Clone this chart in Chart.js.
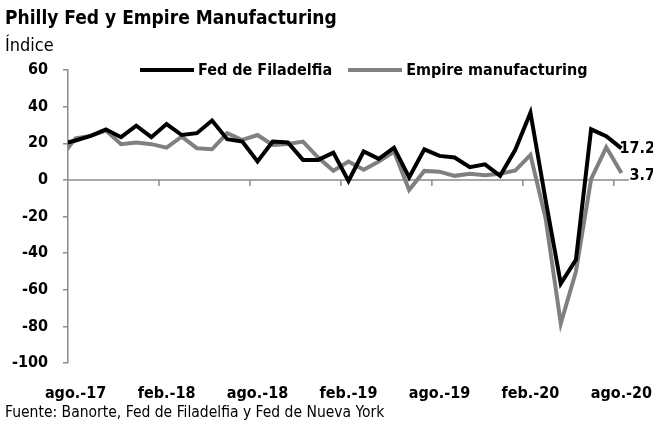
<!DOCTYPE html>
<html>
<head>
<meta charset="utf-8">
<script src="https://cdn.jsdelivr.net/npm/chart.js@4"></script>
<style>
  body { margin: 0; background: #fff; }
  #wrap { position: relative; width: 653px; height: 426px; font-family: 'DejaVu Sans Condensed', 'Liberation Sans Narrow', sans-serif; }
  #chart1 { position: absolute; left: 0; top: 0; }
  .txt { position: absolute; white-space: nowrap; color: #000; }
  #title { left: 5px; top: 6px; font-size: 19px; font-weight: bold; }
  #sub { left: 5px; top: 34px; font-size: 18px; }
  #legend { left: 140px; top: 60px; font-size: 16px; font-weight: bold; display: flex; align-items: center; }
  #legend .sw { display: inline-block; width: 54px; height: 4px; margin-right: 4px; }
  #legend .item { display: flex; align-items: center; margin-right: 16px; }
  #foot { left: 5px; top: 403px; font-size: 15.5px; }
</style>
</head>
<body>
<div id="wrap">
  <canvas id="chart1" width="653" height="426"></canvas>
  <div class="txt" id="title">Philly Fed y Empire Manufacturing</div>
  <div class="txt" id="sub">Índice</div>
  <div class="txt" id="legend">
    <span class="item"><span class="sw" style="background:#000"></span>Fed de Filadelfia</span>
    <span class="item"><span class="sw" style="background:#808080"></span>Empire manufacturing</span>
  </div>
  <div class="txt" id="foot">Fuente: Banorte, Fed de Filadelfia y Fed de Nueva York</div>
</div>
<script>
// months, jul.-17 is only there so the line enters from the left edge
const months = ['jul.-17', 'ago.-17', 'sep.-17', 'oct.-17', 'nov.-17', 'dic.-17',
  'ene.-18', 'feb.-18', 'mar.-18', 'abr.-18', 'may.-18', 'jun.-18', 'jul.-18', 'ago.-18', 'sep.-18', 'oct.-18', 'nov.-18', 'dic.-18',
  'ene.-19', 'feb.-19', 'mar.-19', 'abr.-19', 'may.-19', 'jun.-19', 'jul.-19', 'ago.-19', 'sep.-19', 'oct.-19', 'nov.-19', 'dic.-19',
  'ene.-20', 'feb.-20', 'mar.-20', 'abr.-20', 'may.-20', 'jun.-20', 'jul.-20', 'ago.-20'];

const phillyFed = [19.5, 21.5, 24, 27.5, 23.3, 29.6,
  23.3, 30.5, 24.5, 25.5, 32.4, 22.2, 20.9, 10, 20.9, 20.4, 10.9, 10.9,
  14.9, -0.6, 15.5, 11.5, 17.6, 1.3, 16.7, 13.1, 12.2, 6.9, 8.5, 2.2,
  16.4, 36.7, -11, -56.6, -43.6, 27.6, 23.8, 17.2];

const empire = [12, 22.7, 24, 26.9, 19.5, 20.4,
  19.5, 17.6, 23.6, 17.3, 16.7, 25.5, 21.8, 24.5, 19.1, 19.6, 20.9, 12.2,
  5, 10, 5.5, 10, 15.5, -5.5, 4.9, 4.5, 2.2, 3.3, 2.5, 3.3,
  5.1, 13.6, -21, -78.5, -50, 0.4, 17.8, 3.7];

const yTicks = [-100, -80, -60, -40, -20, 0, 20, 40, 60];

const FONT = "'DejaVu Sans Condensed', 'Liberation Sans Narrow', sans-serif";
const AXIS_GRAY = '#8c8c8c';

// zero line with the small month ticks, and the last values at the right
const axisDeco = {
  id: 'axisDeco',
  beforeDatasetsDraw(chart) {
    const {ctx, chartArea, scales: {x, y}} = chart;
    const y0 = y.getPixelForValue(0);
    ctx.save();
    ctx.strokeStyle = AXIS_GRAY;
    ctx.lineWidth = 1.5;
    ctx.beginPath();
    ctx.moveTo(chartArea.left, y0);
    ctx.lineTo(chartArea.right, y0);
    for (let i = 2; i < months.length; i++) {
      const m = months[i];
      if (m.startsWith('feb.') || m.startsWith('ago.')) {
        const px = (x.getPixelForValue(i - 1) + x.getPixelForValue(i)) / 2;
        ctx.moveTo(px, y0);
        ctx.lineTo(px, y0 + 6);
      }
    }
    ctx.stroke();
    ctx.restore();
  },
  afterDatasetsDraw(chart) {
    const {ctx, scales: {x, y}} = chart;
    const last = months.length - 1;
    const px = x.getPixelForValue(last);
    ctx.save();
    ctx.font = 'bold 16px ' + FONT;
    ctx.fillStyle = '#000';
    ctx.textBaseline = 'middle';
    ctx.textAlign = 'left';
    ctx.fillText(phillyFed[last].toFixed(1), px - 2, y.getPixelForValue(phillyFed[last]));
    ctx.fillText(empire[last].toFixed(1), px + 8, y.getPixelForValue(empire[last]) + 3);
    ctx.restore();
  }
};

const ctx1 = document.getElementById('chart1').getContext('2d');

const config1 = {
  type: 'line',
  data: {
    labels: months,
    datasets: [{
      label: 'Fed de Filadelfia',
      data: phillyFed,
      borderColor: '#000000',
      borderWidth: 4,
      pointRadius: 0,
      tension: 0,
      clip: {left: 0, top: 8, right: 8, bottom: 8}
    }, {
      label: 'Empire manufacturing',
      data: empire,
      borderColor: '#808080',
      borderWidth: 4,
      pointRadius: 0,
      tension: 0,
      clip: {left: 0, top: 8, right: 8, bottom: 8}
    }]
  },
  options: {
    responsive: false,
    animation: false,
    layout: { padding: { top: 70, right: 24, bottom: 23, left: 0 } },
    plugins: {
      legend: { display: false },
      tooltip: { enabled: false }
    },
    scales: {
      x: {
        min: 'ago.-17',
        offset: true,
        grid: { display: false },
        border: { display: false },
        ticks: {
          autoSkip: false,
          maxRotation: 0,
          padding: 13,
          color: '#000',
          font: { family: FONT, size: 16, weight: 'bold' },
          callback: function(v) {
            const l = this.getLabelForValue(v);
            return (l.startsWith('ago.') || l.startsWith('feb.')) ? l : '';
          }
        },
        afterFit: function(s) {
          s.height = 40;
          s.paddingLeft = 0;
          s.paddingRight = 0;
        }
      },
      y: {
        min: -100,
        max: 60,
        afterBuildTicks: function(s) { s.ticks = yTicks.map(v => ({value: v})); },
        grid: { drawOnChartArea: false, drawTicks: true, tickLength: 5, color: AXIS_GRAY, lineWidth: 1.5 },
        border: { display: true, color: AXIS_GRAY, width: 1.5 },
        ticks: {
          padding: 15,
          color: '#000',
          font: { family: FONT, size: 16, weight: 'bold' }
        },
        afterFit: function(s) { s.width = 68; }
      }
    }
  },
  plugins: [axisDeco]
};

const chart1 = new Chart(ctx1, config1);
</script>
</body>
</html>
